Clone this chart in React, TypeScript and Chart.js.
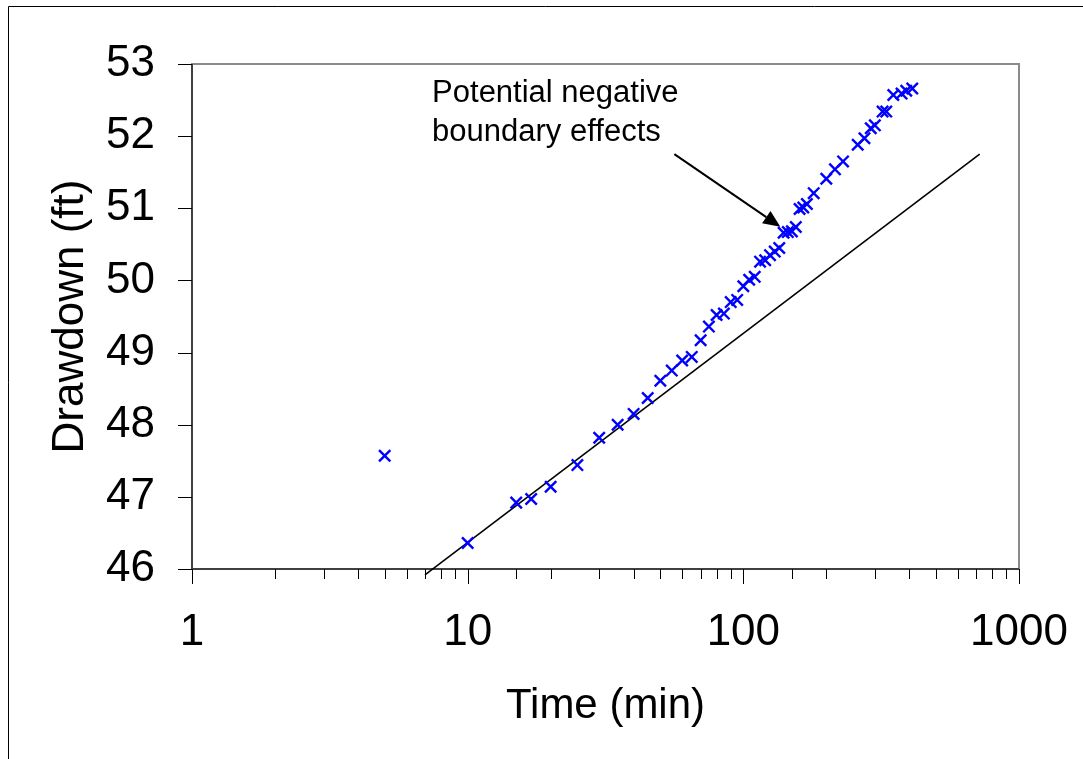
import React, { useEffect, useRef } from "react";
import { Chart, registerables } from "chart.js";

Chart.register(...registerables);

const FONT = "'Liberation Sans', Arial, Helvetica, sans-serif";

// Observed drawdown data
const timeMin = [
  5, 10, 15, 17, 20, 25, 30, 35, 40, 45, 50, 55, 60, 65, 70, 75, 80, 85, 90, 95,
  100, 105, 110, 115, 120, 125, 130, 135, 140, 145, 150, 155, 160, 165, 170, 180,
  200, 215, 230, 260, 275, 290, 300, 320, 330, 350, 375, 390, 410,
];
const drawdownFt = [
  47.57, 46.36, 46.92, 46.97, 47.14, 47.44, 47.82, 48.0, 48.15, 48.37, 48.61, 48.75,
  48.89, 48.94, 49.17, 49.36, 49.52, 49.54, 49.7, 49.73, 49.92, 50.01, 50.05, 50.26,
  50.28, 50.35, 50.4, 50.45, 50.66, 50.67, 50.68, 50.74, 50.99, 51.01, 51.06, 51.21,
  51.41, 51.54, 51.65, 51.88, 51.97, 52.11, 52.15, 52.34, 52.34, 52.57, 52.59, 52.63,
  52.66,
];

// Straight-line (Cooper-Jacob) fit
const fitTime = [7, 720];
const fitDrawdown = [45.92, 51.75];

// Axis ranges / ticks
const xRange = [1, 1000];
const yRange = [46, 53];
const yStep = 1;

// Annotation (in data units)
const noteLines = ["Potential negative", "boundary effects"];
const noteAnchor = { x: 7.43, y: 52.47 };
const arrowFrom = { x: 56.2, y: 51.75 };
const arrowTo = { x: 136.2, y: 50.745 };

const decorPlugin = {
  id: "decor",
  beforeDraw(chart: any) {
    const ctx = chart.ctx;
    ctx.save();
    ctx.fillStyle = "#ffffff";
    ctx.fillRect(0, 0, chart.width, chart.height);
    ctx.strokeStyle = "#000000";
    ctx.lineWidth = 1;
    ctx.beginPath();
    ctx.moveTo(8.5, chart.height);
    ctx.lineTo(8.5, 6.5);
    ctx.lineTo(chart.width, 6.5);
    ctx.stroke();
    ctx.restore();
  },
  beforeDatasetsDraw(chart: any) {
    const ctx = chart.ctx;
    const { left, right, top, bottom } = chart.chartArea;
    const xs = chart.scales.x;
    const ys = chart.scales.y;
    ctx.save();
    // plot frame
    ctx.strokeStyle = "#8a8a8a";
    ctx.lineWidth = 2;
    ctx.strokeRect(left, top, right - left, bottom - top);
    // axis lines
    ctx.strokeStyle = "#404040";
    ctx.lineWidth = 2;
    ctx.beginPath();
    ctx.moveTo(left, top);
    ctx.lineTo(left, bottom);
    ctx.lineTo(right, bottom);
    ctx.stroke();
    // ticks
    ctx.strokeStyle = "#000000";
    ctx.lineWidth = 1;
    ctx.beginPath();
    xs.ticks.forEach((t: any) => {
      const px = Math.round(xs.getPixelForValue(t.value)) + 0.5;
      const l = Math.log10(t.value);
      const major = Math.abs(l - Math.round(l)) < 1e-9;
      ctx.moveTo(px, bottom);
      ctx.lineTo(px, bottom + (major ? 15 : 10));
    });
    ys.ticks.forEach((t: any) => {
      const py = Math.round(ys.getPixelForValue(t.value)) + 0.5;
      ctx.moveTo(left, py);
      ctx.lineTo(left - 14, py);
    });
    ctx.stroke();
    ctx.restore();
  },
  afterDatasetsDraw(chart: any) {
    const ctx = chart.ctx;
    const xs = chart.scales.x;
    const ys = chart.scales.y;
    ctx.save();
    // annotation text
    ctx.fillStyle = "#000000";
    ctx.font = `31px ${FONT}`;
    ctx.textAlign = "left";
    ctx.textBaseline = "alphabetic";
    const tx = xs.getPixelForValue(noteAnchor.x);
    const ty = ys.getPixelForValue(noteAnchor.y);
    noteLines.forEach((line, i) => ctx.fillText(line, tx, ty + i * 39));
    // arrow
    const x0 = xs.getPixelForValue(arrowFrom.x);
    const y0 = ys.getPixelForValue(arrowFrom.y);
    const x1 = xs.getPixelForValue(arrowTo.x);
    const y1 = ys.getPixelForValue(arrowTo.y);
    const ang = Math.atan2(y1 - y0, x1 - x0);
    const headLen = 17;
    const headHalf = 7.5;
    const bx = x1 - headLen * Math.cos(ang);
    const by = y1 - headLen * Math.sin(ang);
    ctx.strokeStyle = "#000000";
    ctx.lineWidth = 2;
    ctx.beginPath();
    ctx.moveTo(x0, y0);
    ctx.lineTo(bx, by);
    ctx.stroke();
    ctx.beginPath();
    ctx.moveTo(x1, y1);
    ctx.lineTo(bx + headHalf * Math.sin(ang), by - headHalf * Math.cos(ang));
    ctx.lineTo(bx - headHalf * Math.sin(ang), by + headHalf * Math.cos(ang));
    ctx.closePath();
    ctx.fillStyle = "#000000";
    ctx.fill();
    ctx.restore();
  },
};

export default function App() {
  const ref = useRef<HTMLCanvasElement | null>(null);

  useEffect(() => {
    if (!ref.current) return;
    Chart.defaults.font.family = FONT;
    const chart = new Chart(ref.current, {
      type: "scatter",
      data: {
        datasets: [
          {
            label: "Observed",
            data: timeMin.map((t, i) => ({ x: t, y: drawdownFt[i] })),
            pointStyle: "crossRot",
            pointRadius: 8,
            pointBorderWidth: 2.4,
            borderColor: "#0000ff",
            backgroundColor: "#0000ff",
            showLine: false,
          },
          {
            label: "Fit",
            data: fitTime.map((t, i) => ({ x: t, y: fitDrawdown[i] })),
            showLine: true,
            borderColor: "#000000",
            borderWidth: 1.6,
            pointRadius: 0,
            clip: false as any,
          },
        ],
      },
      options: {
        responsive: false,
        animation: false,
        layout: { padding: { top: 64, right: 64, left: 0, bottom: 0 } },
        plugins: {
          legend: { display: false },
          tooltip: { enabled: false },
        },
        scales: {
          x: {
            type: "logarithmic",
            position: "bottom",
            min: xRange[0],
            max: xRange[1],
            grid: { display: false, drawTicks: true, tickLength: 37 },
            border: { display: false },
            ticks: {
              autoSkip: false,
              maxRotation: 0,
              padding: 0,
              color: "#000000",
              font: { size: 44, family: FONT },
              callback: (v: any) => {
                const l = Math.log10(Number(v));
                return Math.abs(l - Math.round(l)) < 1e-9 ? String(Number(v)) : "";
              },
            },
            title: {
              display: true,
              text: "Time (min)",
              color: "#000000",
              font: { size: 42, family: FONT },
              padding: { top: 0, bottom: 27 },
            },
            afterFit: (s: any) => {
              s.height = 190;
            },
          },
          y: {
            type: "linear",
            min: yRange[0],
            max: yRange[1],
            grid: { display: false, drawTicks: true, tickLength: 37 },
            border: { display: false },
            ticks: {
              stepSize: yStep,
              padding: 0,
              color: "#000000",
              font: { size: 44, family: FONT },
            },
            title: {
              display: true,
              text: "Drawdown (ft)",
              color: "#000000",
              font: { size: 44, family: FONT },
              padding: { top: 44, bottom: 0 },
            },
            afterFit: (s: any) => {
              s.width = 192;
            },
          },
        },
      },
      plugins: [decorPlugin],
    });
    return () => chart.destroy();
  }, []);

  return (
    <canvas
      ref={ref}
      width={1083}
      height={759}
      style={{ position: "fixed", left: 0, top: 0, display: "block" }}
    />
  );
}
